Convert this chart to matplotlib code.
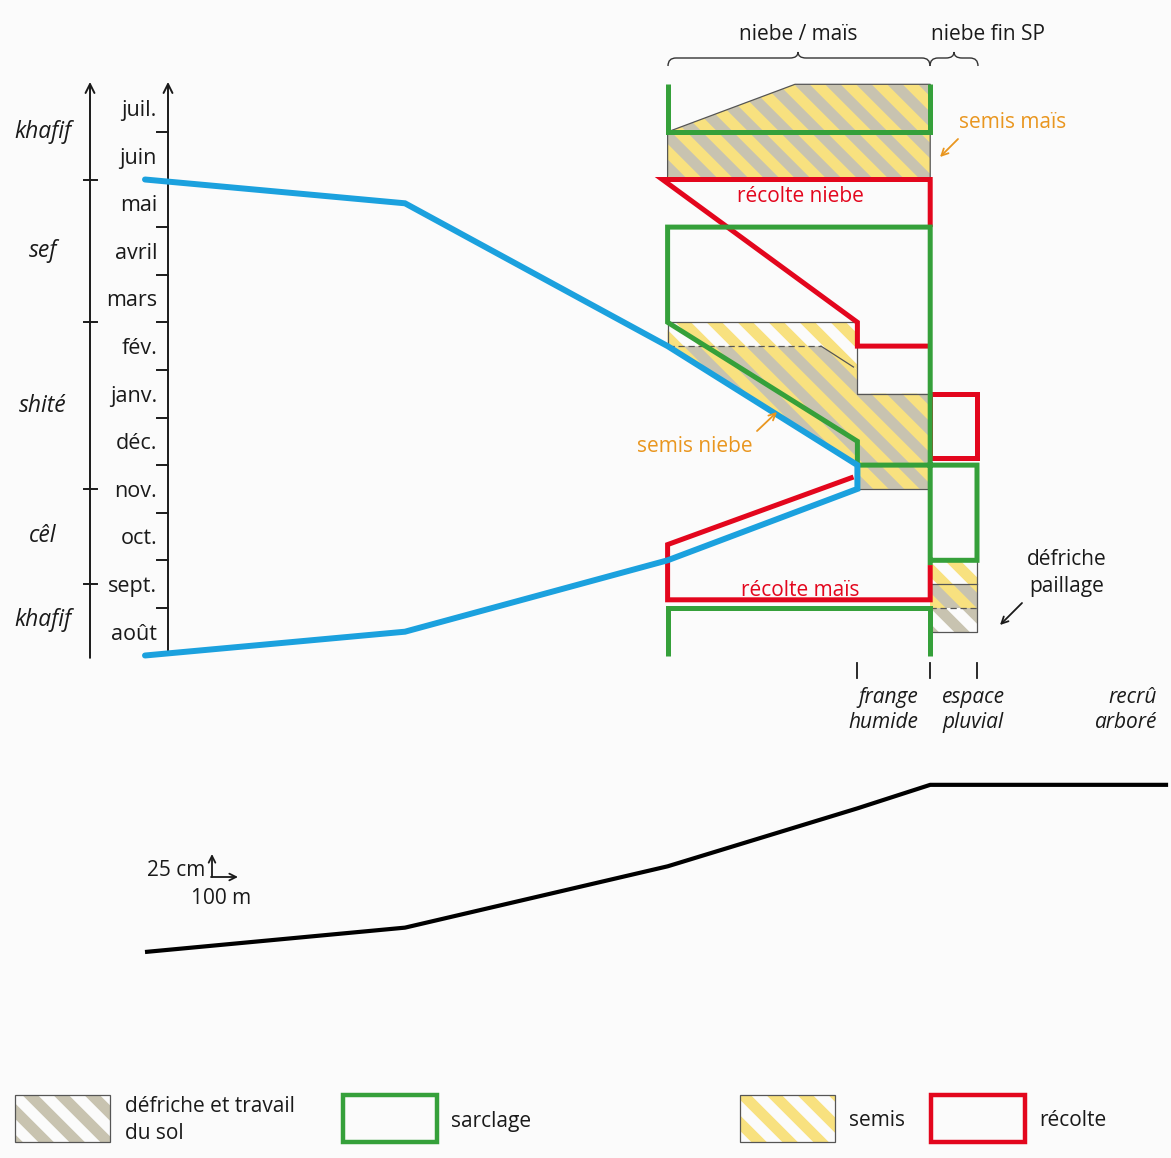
import matplotlib
matplotlib.use("Agg")
import matplotlib.pyplot as plt
import numpy as np
from matplotlib.patches import Polygon, Rectangle, PathPatch
from matplotlib.collections import LineCollection
from matplotlib.transforms import IdentityTransform, blended_transform_factory
from matplotlib.path import Path

plt.rcParams['font.family'] = ['Open Sans', 'DejaVu Sans']

# calendar: t = months since 1 August
months = ['août', 'sept.', 'oct.', 'nov.', 'déc.', 'janv.', 'fév.', 'mars', 'avril', 'mai', 'juin', 'juil.']
seasons = ['khafif', 'cêl', 'shité', 'sef', 'khafif']
season_mid = [0.75, 2.5, 5.25, 8.5, 11.0]
season_bounds = [1.5, 3.5, 7.0, 10.0]

# water level along the transect (x in m, t in months)
water_x = [0, 1000, 2010, 2740, 2740, 2010, 1000, 0]
water_t = [10, 9.5, 6.5, 4.0, 3.5, 2.0, 0.5, 0]

# ground profile (x in m, z in cm)
profile_x = [0, 1000, 2010, 2740, 3020, 3935]
profile_z = [0, 29, 102, 171, 199, 199]

# sarclage (green)
sarclage = [
    ([2010, 2010, 3020, 3020], [12, 11, 11, 12]),
    ([3020, 3020, 2010, 2010, 2740, 2740, 3200, 3200, 3020], [1.9, 9, 9, 7, 4.5, 4.0, 4.0, 2.0, 2.0]),
    ([2010, 2010, 3020, 3020], [0, 1, 1, 0]),
]
# récolte (red)
recolte = [
    ([3020, 3020, 1990, 2740, 2740, 3020], [9, 10, 10, 7, 6.5, 6.5]),
    ([2725, 2010, 2010, 3020, 3020], [3.75, 2.33, 1.17, 1.17, 1.9]),
    ([3020, 3200, 3200, 3020, 3020], [4.15, 4.15, 5.5, 5.5, 4.15]),
]
# hatched areas: (x, t, kind) kind: 'both', 'semis', 'defriche'
areas = [
    ([2010, 2010, 2500, 3020, 3020], [10, 11, 12, 12, 10], 'both'),
    ([2010, 2600, 2740, 2740, 3020, 3020, 2740, 2740, 2010], [6.5, 6.5, 6.0, 5.5, 5.5, 3.5, 3.5, 4.0, 6.5], 'both'),
    ([2010, 2740, 2740, 2600, 2010], [7, 7, 6.0, 6.5, 6.5], 'semis'),
    ([3020, 3200, 3200, 3020], [1.5, 1.5, 2.0, 2.0], 'semis'),
    ([3020, 3200, 3200, 3020], [1.0, 1.0, 1.5, 1.5], 'both'),
    ([3020, 3200, 3200, 3020], [0.5, 0.5, 1.0, 1.0], 'defriche'),
]

GREEN = '#35a03a'
RED = '#e3061d'
BLUE = '#1ba1de'
ORANGE = '#e9961f'
YELLOW = '#f8e17f'
GRAY = '#c8c3b0'
BG = '#fbfbfb'
DARK = '#1a1a1a'
W, H = 1171, 1158

fig = plt.figure(figsize=(W / 100, H / 100), dpi=100, facecolor=BG)
ax = fig.add_axes([0, 0, 1, 1])
ax.set_xlim(-145 / 0.26, (W - 145) / 0.26)
ax.set_ylim((655.5 - H) / 47.6, 655.5 / 47.6)
axp = fig.add_axes([0, 0, 1, 1], sharex=ax)
axp.set_ylim((952 - H) / 0.84, 952 / 0.84)
axo = fig.add_axes([0, 0, 1, 1])
axo.set_xlim(0, W)
axo.set_ylim(H, 0)
for a in (ax, axp, axo):
    a.axis('off')
    a.patch.set_alpha(0)


def stripes(a, xy, kind, period=31, z=2):
    fg, bg = {'both': (YELLOW, GRAY), 'semis': (YELLOW, BG), 'defriche': (GRAY, BG)}[kind]
    patch = Polygon(xy, closed=True, facecolor=bg, edgecolor='none', zorder=z)
    a.add_patch(patch)
    segs = [[(c, 0), (c - H, H)] for c in np.arange(0, W + H + period, period)]
    lw = period / np.sqrt(2) / 2 * 0.72
    lc = LineCollection(segs, colors=fg, linewidths=lw, transform=IdentityTransform(), zorder=z)
    a.add_collection(lc, autolim=False)
    lc.set_clip_path(patch)


for xs, ts, kind in areas:
    stripes(ax, list(zip(xs, ts)), kind)

# thin outlines of the hatched areas
outline = dict(color='#555555', lw=0.9, zorder=3)
ax.plot([2010, 2010, 2500, 3020, 3020], [10, 11, 12, 12, 10], **outline)
ax.plot([2010, 2010, 2740, 2740, 3020], [6.5, 7, 7, 5.5, 5.5], **outline)
ax.plot([2740, 3020], [3.5, 3.5], **outline)
ax.plot([2010, 2600], [6.5, 6.5], ls=(0, (5, 3)), **outline)
ax.plot([2600, 2725], [6.5, 6.06], **outline)
ax.plot([3020, 3200, 3200, 3020], [2.0, 2.0, 0.5, 0.5], **outline)
ax.plot([3020, 3200], [1.5, 1.5], **outline)
ax.plot([3020, 3200], [1.0, 1.0], ls=(0, (5, 3)), **outline)

for xs, ts in recolte:
    ax.plot(xs, ts, color=RED, lw=3.6, solid_joinstyle='miter', solid_capstyle='butt', zorder=4)
for xs, ts in sarclage:
    ax.plot(xs, ts, color=GREEN, lw=3.6, solid_joinstyle='miter', solid_capstyle='butt', zorder=5)
ax.plot(water_x, water_t, color=BLUE, lw=4.3, solid_joinstyle='miter', solid_capstyle='round', zorder=6)

# calendar axes
bt = blended_transform_factory(axo.transData, ax.transData)
for xa, t0 in [(90, -0.05), (168, 0.1)]:
    ax.annotate('', xy=(xa, 12.05), xytext=(xa, t0), xycoords=bt, textcoords=bt,
                arrowprops=dict(arrowstyle='->', lw=1.4, color=DARK, shrinkA=0, shrinkB=0,
                                mutation_scale=16))
for t in range(1, 12):
    ax.plot([157, 168], [t, t], color=DARK, lw=1.4, transform=bt)
for t in season_bounds:
    ax.plot([84, 97], [t, t], color=DARK, lw=1.4, transform=bt)
for i, m in enumerate(months):
    ax.text(157, i + 0.45, m, transform=bt, ha='right', va='center', fontsize=15.5, color=DARK)
for s, t in zip(seasons, season_mid):
    ax.text(43, t, s, transform=bt, ha='center', va='center', fontsize=16.5, style='italic', color=DARK)

# ticks below the diagram
for xm in [2740, 3020, 3200]:
    ax.plot([xm, xm], [-0.16, -0.47], color=DARK, lw=1.3)

# profile
axp.plot(profile_x, profile_z, color='black', lw=3.0, solid_capstyle='butt')


def brace(x0, x1, xm, y, tip=8, peak=6):
    r = 8
    verts = [(x0, y + tip), (x0, y), (x0 + r, y), (xm - r, y), (xm, y), (xm, y - peak),
             (xm, y), (xm + r, y), (x1 - r, y), (x1, y), (x1, y + tip)]
    codes = [Path.MOVETO, Path.CURVE3, Path.CURVE3, Path.LINETO, Path.CURVE3, Path.CURVE3,
             Path.CURVE3, Path.CURVE3, Path.LINETO, Path.CURVE3, Path.CURVE3]
    axo.add_patch(PathPatch(Path(verts, codes), facecolor='none', edgecolor='#333333', lw=1.0))


brace(668, 930, 798, 58)
brace(930, 978, 954, 58)

txt = dict(fontsize=15, color=DARK)
axo.text(798, 35, 'niebe / maïs', ha='center', va='center', **txt)
axo.text(988, 35, 'niebe fin SP', ha='center', va='center', **txt)
axo.text(1013, 122, 'semis maïs', ha='center', va='center', fontsize=15, color=ORANGE)
axo.text(800, 197, 'récolte niebe', ha='center', va='center', fontsize=15, color=RED)
axo.text(695, 446, 'semis niebe', ha='center', va='center', fontsize=15, color=ORANGE)
axo.text(800, 590, 'récolte maïs', ha='center', va='center', fontsize=15, color=RED)
axo.text(1067, 573, 'défriche\npaillage', ha='center', va='center', linespacing=1.35, **txt)
axo.text(918, 710, 'frange\nhumide', ha='right', va='center', style='italic', linespacing=1.3, **txt)
axo.text(942, 710, 'espace\npluvial', ha='left', va='center', style='italic', linespacing=1.3, **txt)
axo.text(1157, 710, 'recrû\narboré', ha='right', va='center', style='italic', linespacing=1.3, **txt)

arr = dict(arrowstyle='->', lw=1.3, shrinkA=0, shrinkB=0, mutation_scale=12)
axo.annotate('', xy=(940, 157), xytext=(958, 139), arrowprops=dict(color=ORANGE, **arr))
axo.annotate('', xy=(777, 412), xytext=(757, 431), arrowprops=dict(color=ORANGE, **arr))
axo.annotate('', xy=(1000, 625), xytext=(1022, 603), arrowprops=dict(color=DARK, **arr))

# scale bar
axo.annotate('', xy=(212, 854), xytext=(212, 877), arrowprops=dict(color=DARK, **arr))
axo.annotate('', xy=(238, 877), xytext=(211, 877), arrowprops=dict(color=DARK, **arr))
axo.text(205, 870, '25 cm', ha='right', va='center', **txt)
axo.text(221, 899, '100 m', ha='center', va='center', **txt)

# legend
stripes(axo, [(15, 1095), (110, 1095), (110, 1142), (15, 1142)], 'defriche')
stripes(axo, [(740, 1095), (835, 1095), (835, 1142), (740, 1142)], 'semis')
for x0 in (15, 740):
    axo.add_patch(Rectangle((x0, 1095), 95, 47, facecolor='none', edgecolor='#555555', lw=0.9, zorder=3))
axo.add_patch(Rectangle((343, 1095), 94, 47, facecolor='none', edgecolor=GREEN, lw=3.2))
axo.add_patch(Rectangle((931, 1095), 94, 47, facecolor='none', edgecolor=RED, lw=3.2))
axo.text(125, 1120, 'défriche et travail\ndu sol', ha='left', va='center', linespacing=1.35, **txt)
axo.text(451, 1121, 'sarclage', ha='left', va='center', **txt)
axo.text(849, 1121, 'semis', ha='left', va='center', **txt)
axo.text(1039, 1121, 'récolte', ha='left', va='center', **txt)

fig.savefig('out.png', dpi=100, facecolor=BG)
